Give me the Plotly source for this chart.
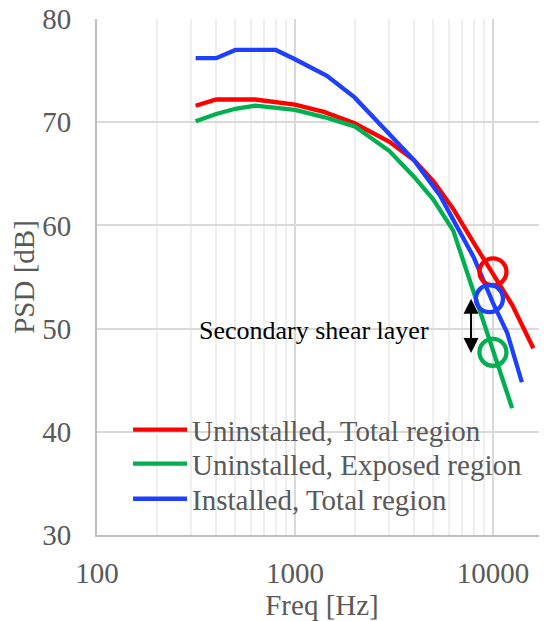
import plotly.graph_objects as go
import math

# ---- data ----
freq_red = [315, 400, 630, 1000, 1400, 2000, 3000, 4000, 5000, 6300, 8000, 10000, 12500, 16000]
psd_red = [71.6, 72.2, 72.2, 71.7, 71.0, 69.9, 68.1, 66.3, 64.3, 61.6, 58.3, 55.3, 52.3, 48.1]

freq_green = [315, 400, 500, 630, 1000, 1400, 2000, 3000, 4000, 5000, 6300, 8000, 10000, 12500]
psd_green = [70.1, 70.8, 71.3, 71.6, 71.2, 70.5, 69.6, 67.2, 64.7, 62.5, 59.5, 53.6, 47.9, 42.3]

freq_blue = [315, 400, 500, 800, 1000, 1450, 2000, 3000, 4000, 5400, 6300, 8000, 10000, 11800, 14000]
psd_blue = [76.2, 76.2, 77.0, 77.0, 76.1, 74.5, 72.4, 68.9, 66.3, 62.9, 60.5, 56.9, 52.5, 49.6, 44.8]

series_names = ["Uninstalled, Total region", "Uninstalled, Exposed region", "Installed, Total region"]
series_colors = ["#ff0000", "#00b050", "#1f3fff"]

circle_freq = [10000, 9600, 10000]
circle_psd = [55.5, 52.9, 47.7]
circle_colors = ["#ff0000", "#1f3fff", "#00b050"]

arrow_freq = 7750
arrow_top = 52.9
arrow_bottom = 47.5

label_text = "Secondary shear layer"
label_freq = 1250
label_psd = 49.8

x_tickvals = [100, 1000, 10000]
y_tickvals = [30, 40, 50, 60, 70, 80]

FONT = "Liberation Serif, Times New Roman, serif"
GREY = "#595959"

legend_ids = ["legend", "legend2", "legend3"]
legend_y = [0.204, 0.138, 0.07]

fig = go.Figure()
for f, p, name, col, lg in zip([freq_red, freq_green, freq_blue], [psd_red, psd_green, psd_blue],
                               series_names, series_colors, legend_ids):
    fig.add_trace(go.Scatter(x=f, y=p, mode="lines", name=name, legend=lg,
                             line=dict(color=col, width=4.3)))

for f, p, col in zip(circle_freq, circle_psd, circle_colors):
    fig.add_trace(go.Scatter(x=[f], y=[p], mode="markers", showlegend=False,
                             marker=dict(symbol="circle-open", size=27, color=col,
                                         line=dict(color=col, width=4.3))))

fig.add_annotation(x=math.log10(arrow_freq), y=arrow_top,
                   ax=math.log10(arrow_freq), ay=arrow_bottom,
                   xref="x", yref="y", axref="x", ayref="y",
                   text="", showarrow=True, arrowside="end+start",
                   arrowhead=2, startarrowhead=2, arrowsize=1.5, startarrowsize=1.5,
                   arrowwidth=2, arrowcolor="black")

fig.add_annotation(x=math.log10(label_freq), y=label_psd, xref="x", yref="y",
                   text=label_text, showarrow=False,
                   font=dict(family=FONT, size=26, color="black"))

fig.update_xaxes(type="log", range=[2, 4.273], automargin=False,
                 tickvals=x_tickvals, ticktext=[str(v) for v in x_tickvals],
                 tickfont=dict(family=FONT, size=29, color=GREY),
                 ticklabelstandoff=11, ticklabeloverflow="allow",
                 showgrid=True, gridcolor="#d9d9d9", gridwidth=2,
                 minor=dict(showgrid=True, gridcolor="#efefef", gridwidth=1.5,
                            dtick="D1"),
                 showline=True, linecolor="#bfbfbf", linewidth=2,
                 zeroline=False,
                 title=dict(text="Freq [Hz]", font=dict(family=FONT, size=29, color=GREY),
                            standoff=0))

fig.update_yaxes(range=[30, 80], tickvals=y_tickvals, automargin=False,
                 tickfont=dict(family=FONT, size=29, color=GREY),
                 ticklabelstandoff=18, ticklabeloverflow="allow",
                 showgrid=True, gridcolor="#d9d9d9", gridwidth=2,
                 showline=True, linecolor="#bfbfbf", linewidth=2,
                 zeroline=False,
                 title=dict(text="PSD [dB]", font=dict(family=FONT, size=29, color=GREY),
                            standoff=4))

legend_common = dict(x=0.069, xanchor="left", yanchor="middle",
                     bgcolor="rgba(0,0,0,0)", borderwidth=0,
                     font=dict(family=FONT, size=29, color=GREY),
                     itemwidth=54)

fig.update_layout(
    width=539, height=613,
    margin=dict(l=89, r=0, t=11, b=86),
    paper_bgcolor="white", plot_bgcolor="white",
    showlegend=True,
    legend=dict(y=legend_y[0], **legend_common),
    legend2=dict(y=legend_y[1], **legend_common),
    legend3=dict(y=legend_y[2], **legend_common),
)

fig.write_html("out.html")
